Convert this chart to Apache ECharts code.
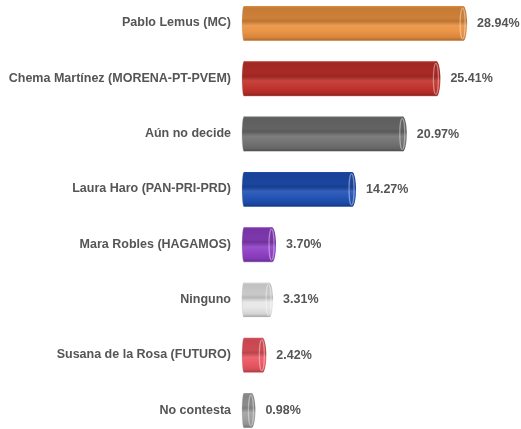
<!DOCTYPE html>
<html>
<head>
<meta charset="utf-8">
<script src="https://cdn.jsdelivr.net/npm/echarts@6/dist/echarts.min.js"></script>
<style>
html,body{margin:0;padding:0;background:#fff;}
#chart{width:521px;height:429px;}
</style>
</head>
<body>
<div id="chart"></div>
<script>
const candidates = ['Pablo Lemus (MC)', 'Chema Martínez (MORENA-PT-PVEM)', 'Aún no decide', 'Laura Haro (PAN-PRI-PRD)',
    'Mara Robles (HAGAMOS)', 'Ninguno', 'Susana de la Rosa (FUTURO)', 'No contesta'];
const percents = [28.94, 25.41, 20.97, 14.27, 3.70, 3.31, 2.42, 0.98];
const barColors = ['#ea9140', '#c0302a', '#707070', '#1e4fb4', '#8e3ec4', '#e6e6e6', '#ea5560', '#9e9e9e'];

const chart = echarts.init(document.getElementById('chart'));

// shade a hex colour: amt < 0 darker, > 0 lighter
function shade(hex, amt) {
    let r = parseInt(hex.substr(1, 2), 16), g = parseInt(hex.substr(3, 2), 16), b = parseInt(hex.substr(5, 2), 16);
    const f = c => Math.round(amt < 0 ? c * (1 + amt) : c + (255 - c) * amt);
    return 'rgb(' + f(r) + ',' + f(g) + ',' + f(b) + ')';
}
function bodyGradient(c) {
    return new echarts.graphic.LinearGradient(0, 0, 0, 1, [
        {offset: 0, color: shade(c, -0.05)},
        {offset: 0.06, color: shade(c, -0.16)},
        {offset: 0.34, color: shade(c, -0.12)},
        {offset: 0.43, color: shade(c, -0.2)},
        {offset: 0.56, color: shade(c, 0.1)},
        {offset: 0.72, color: shade(c, 0.03)},
        {offset: 0.9, color: shade(c, -0.08)},
        {offset: 0.97, color: shade(c, -0.25)},
        {offset: 1, color: shade(c, 0.4)}
    ]);
}

function renderCylinder(params, api) {
    const idx = api.value(1);
    const v = api.value(0);
    const p0 = api.coord([0, idx]);
    const p1 = api.coord([v, idx]);
    const h = 35, ry = h / 2, rxR = 4, rxL = 2;
    const c = barColors[idx];
    const cy = p0[1] + 0.5;
    const label = v.toFixed(2) + '%';
    return {
        type: 'group',
        children: [
            {type: 'ellipse', shape: {cx: p0[0], cy: cy, rx: rxL, ry: ry}, style: {fill: bodyGradient(c), stroke: 'rgba(180,180,180,0.5)', lineWidth: 0.6}},
            {type: 'rect', shape: {x: p0[0], y: cy - ry, width: p1[0] - p0[0], height: h}, style: {fill: bodyGradient(c)}},
            {type: 'ellipse', shape: {cx: p1[0], cy: cy, rx: rxR, ry: ry}, style: {fill: bodyGradient(c)}},
            {type: 'ellipse', shape: {cx: p1[0] - 0.5, cy: cy, rx: rxR - 1.5, ry: ry - 2}, style: {fill: 'none', stroke: 'rgba(255,255,255,0.4)', lineWidth: 1.2}},
            {type: 'text', x: p1[0] + rxR + 10, y: cy, style: {text: label, fill: '#555', fontSize: 12.5, fontWeight: 'bold',
                fontFamily: 'Liberation Sans, Arial, sans-serif', verticalAlign: 'middle', align: 'left'}}
        ]
    };
}

const option = {
    animation: false,
    grid: {left: 244, top: -4.6, height: 442.3, width: 265, outerBoundsMode: 'none', containLabel: false},
    xAxis: {type: 'value', min: 0, max: 35, show: false},
    yAxis: {
        type: 'category', data: candidates, inverse: true,
        axisLine: {show: false}, axisTick: {show: false}, splitLine: {show: false},
        axisLabel: {color: '#555', fontWeight: 'bold', fontSize: 12.5, margin: 13, fontFamily: 'Liberation Sans, Arial, sans-serif'}
    },
    series: [{
        type: 'custom',
        renderItem: renderCylinder,
        encode: {x: 0, y: 1},
        data: percents.map((v, i) => [v, i])
    }]
};
chart.setOption(option);
</script>
</body>
</html>
